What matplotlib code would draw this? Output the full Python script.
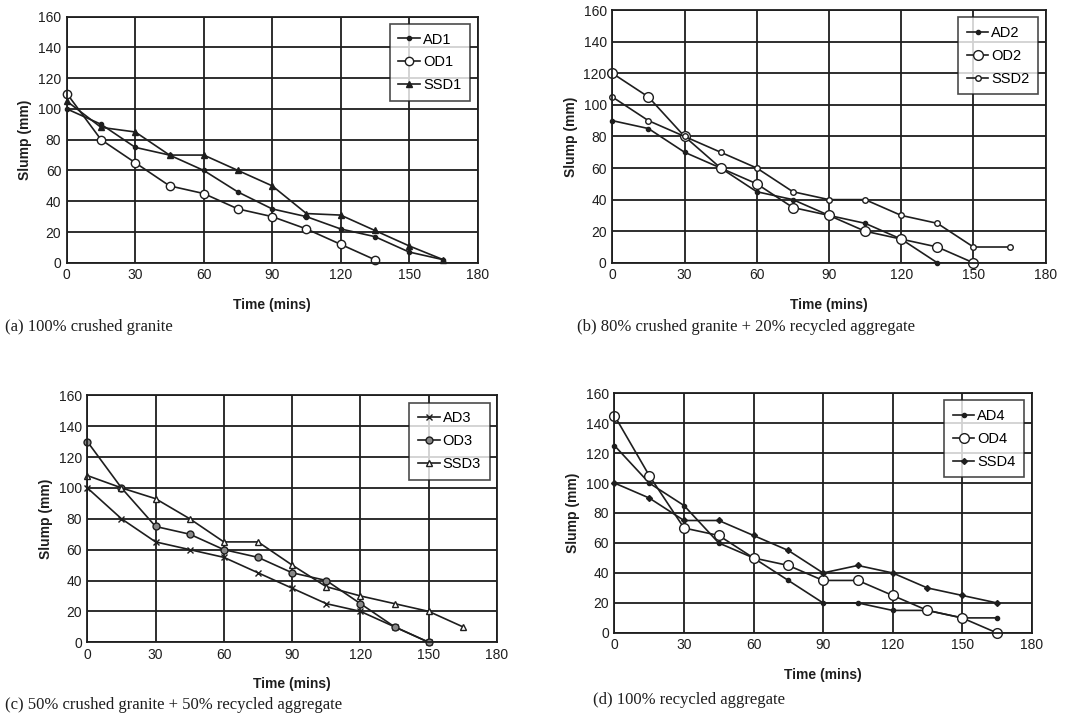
import matplotlib
matplotlib.use("Agg")
import matplotlib.pyplot as plt

# time axis (mins)
t = [0, 15, 30, 45, 60, 75, 90, 105, 120, 135, 150, 165]

# (a) 100% crushed granite
ad1 = [100, 90, 75, 70, 60, 46, 35, 30, 22, 17, 7, 2]
od1 = [110, 80, 65, 50, 45, 35, 30, 22, 12, 2]
ssd1 = [105, 88, 85, 70, 70, 60, 50, 32, 31, 21, 11, 2]

# (b) 80% crushed granite + 20% recycled aggregate
ad2 = [90, 85, 70, 60, 45, 40, 30, 25, 15, 0]
od2 = [120, 105, 80, 60, 50, 35, 30, 20, 15, 10, 0]
ssd2 = [105, 90, 80, 70, 60, 45, 40, 40, 30, 25, 10, 10]

# (c) 50% crushed granite + 50% recycled aggregate
ad3 = [100, 80, 65, 60, 55, 45, 35, 25, 20, 10, 0]
od3 = [130, 100, 75, 70, 60, 55, 45, 40, 25, 10, 0]
ssd3 = [108, 100, 93, 80, 65, 65, 50, 36, 30, 25, 20, 10]

# (d) 100% recycled aggregate
ad4 = [125, 100, 85, 60, 50, 35, 20, 20, 15, 15, 10, 10]
od4 = [145, 105, 70, 65, 50, 45, 35, 35, 25, 15, 10, 0]
ssd4 = [100, 90, 75, 75, 65, 55, 40, 45, 40, 30, 25, 20]

captions = ["(a) 100% crushed granite",
            "(b) 80% crushed granite + 20% recycled aggregate",
            "(c) 50% crushed granite + 50% recycled aggregate",
            "(d) 100% recycled aggregate"]

plt.rcParams['font.family'] = ['Liberation Sans', 'DejaVu Sans']
ink = '#1e1e1e'

fig = plt.figure(figsize=(10.78, 7.2), dpi=100)
fig.patch.set_facecolor('white')

rects = [[0.062, 0.635, 0.381, 0.342],
         [0.568, 0.635, 0.402, 0.351],
         [0.081, 0.108, 0.380, 0.343],
         [0.570, 0.121, 0.387, 0.333]]

panels = [
    [("AD1", ad1, '.', ink, 6), ("OD1", od1, 'o', 'white', 6), ("SSD1", ssd1, '^', ink, 4)],
    [("AD2", ad2, '.', ink, 6), ("OD2", od2, 'o', 'white', 7), ("SSD2", ssd2, 'o', 'white', 4)],
    [("AD3", ad3, 'x', ink, 5), ("OD3", od3, 'o', '#888888', 5), ("SSD3", ssd3, '^', 'white', 4)],
    [("AD4", ad4, '.', ink, 6), ("OD4", od4, 'o', 'white', 7), ("SSD4", ssd4, 'D', ink, 3)],
]

cap_pos = [(0.005, 0.540), (0.535, 0.540), (0.005, 0.015), (0.550, 0.022)]

for i in range(4):
    ax = fig.add_axes(rects[i])
    for name, vals, mk, fc, ms in panels[i]:
        ax.plot(t[:len(vals)], vals, color=ink, lw=1.2, marker=mk, ms=ms,
                mfc=fc, mec=ink, mew=1.0, label=name, clip_on=False)
    ax.set_xlim(0, 180)
    ax.set_ylim(0, 160)
    ax.set_xticks(range(0, 181, 30))
    ax.set_yticks(range(0, 161, 20))
    ax.grid(True, color=ink, lw=1.3)
    ax.set_axisbelow(True)
    for s in ax.spines.values():
        s.set_color(ink)
        s.set_linewidth(1.3)
    ax.tick_params(length=0, labelsize=10, colors=ink, pad=4)
    ax.set_xlabel("Time (mins)", fontsize=10, fontweight='bold', color=ink, labelpad=11)
    ax.set_ylabel("Slump (mm)", fontsize=10, fontweight='bold', color=ink)
    leg = ax.legend(loc='upper right', fontsize=10.5, frameon=True, fancybox=False,
                    edgecolor=ink, handlelength=1.5, borderpad=0.6,
                    labelspacing=0.6, handletextpad=0.2)
    leg.get_frame().set_linewidth(1.2)
    fig.text(cap_pos[i][0], cap_pos[i][1], captions[i], fontsize=12,
             family=['Liberation Serif', 'DejaVu Serif'], color=ink)

fig.savefig("out.png", dpi=100, facecolor='white')
